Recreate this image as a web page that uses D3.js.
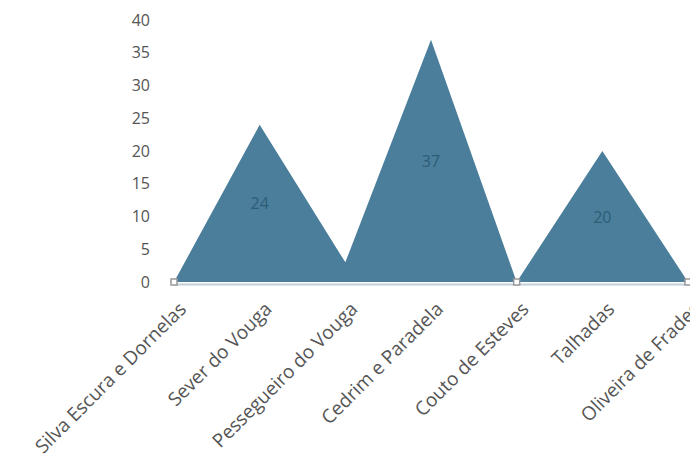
<!DOCTYPE html>
<meta charset="utf-8">
<body style="margin:0;background:#fff">
    <style>
        .area { fill: #4b7e9b; }
        .y .tick text { fill: #555; font-family: "Open Sans", sans-serif; font-size: 16px; }
        .x .tick text { fill: #555; font-family: "Open Sans", sans-serif; font-size: 19px; }
        .val { fill: #2d5d75; font-family: "Open Sans", sans-serif; font-size: 16px; text-anchor: middle; }
    </style>
    <script src="https://d3js.org/d3.v7.min.js"></script>
    <script>
        // categories and values
        var categories = ["Silva Escura e Dornelas", "Sever do Vouga", "Pessegueiro do Vouga",
                          "Cedrim e Paradela", "Couto de Esteves", "Talhadas", "Oliveira de Frades"];
        var values = [0, 24, 3, 37, 0, 20, 0];
        var yTicks = [0, 5, 10, 15, 20, 25, 30, 35, 40];

        var width = 690, height = 468;
        var x0 = 174, x1 = 688, yBase = 282, yTop = 20;

        var data = categories.map(function(c, i) { return {cat: c, value: values[i]}; });

        var x = d3.scalePoint().domain(categories).range([x0, x1]);
        var y = d3.scaleLinear().domain([0, 40]).range([yBase, yTop]);

        var svg = d3.select("body").append("svg")
            .attr("width", width)
            .attr("height", height);

        // y axis labels only
        var yAxis = svg.append("g")
            .attr("class", "y")
            .attr("transform", "translate(" + (x0 - 12) + ",0)")
            .call(d3.axisLeft(y).tickValues(yTicks).tickSize(0).tickPadding(12));
        yAxis.select(".domain").remove();

        var area = d3.area()
            .x(function(d) { return x(d.cat); })
            .y0(yBase)
            .y1(function(d) { return y(d.value); });

        svg.append("path")
            .datum(data)
            .attr("class", "area")
            .attr("d", area);

        // x axis, labels turned 45 degrees
        var xAxis = svg.append("g")
            .attr("class", "x")
            .attr("transform", "translate(0," + (yBase + 2) + ")")
            .call(d3.axisBottom(x).tickSize(0).tickPadding(22));
        xAxis.select(".domain").attr("stroke", "#c2d2dc").attr("stroke-width", 2);
        xAxis.selectAll(".tick text")
            .attr("text-anchor", "end")
            .attr("dx", "-0.5em")
            .attr("dy", "0.3em")
            .attr("transform", "rotate(-45)");

        // hollow markers on the zero points
        svg.selectAll(".mark")
            .data(data.filter(function(d) { return d.value === 0; }))
            .enter().append("rect")
            .attr("x", function(d) { return x(d.cat) - 3; })
            .attr("y", yBase - 3)
            .attr("width", 6).attr("height", 6)
            .attr("fill", "#fff")
            .attr("stroke", "#999")
            .attr("stroke-width", 1.5);

        // value labels at half height
        svg.selectAll(".val")
            .data(data.filter(function(d) { return d.value > 5; }))
            .enter().append("text")
            .attr("class", "val")
            .attr("x", function(d) { return x(d.cat); })
            .attr("y", function(d) { return y(d.value / 2) + 6; })
            .text(function(d) { return d.value; });
    </script>
